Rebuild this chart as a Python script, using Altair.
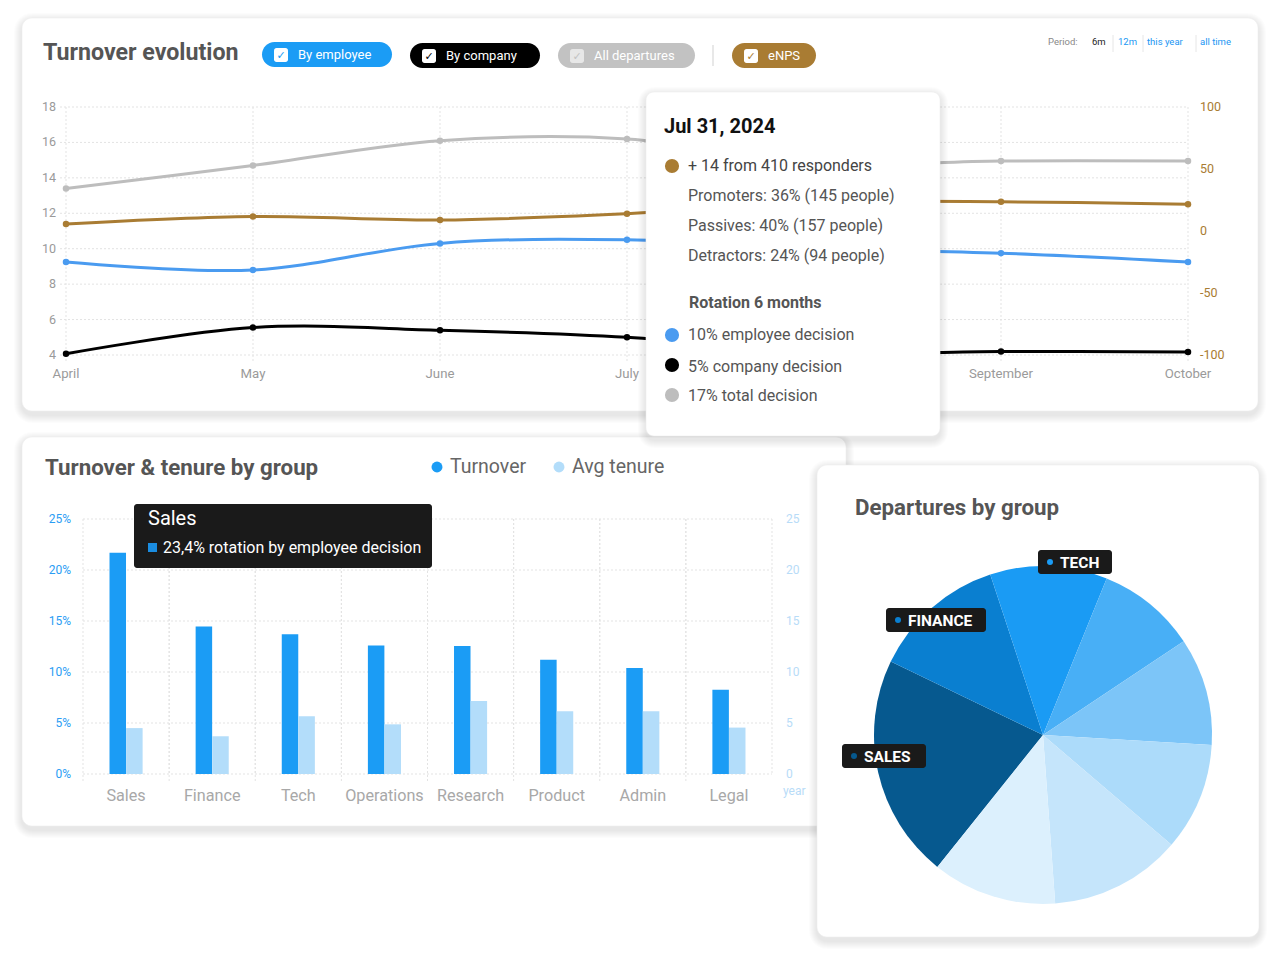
import math
import altair as alt
import pandas as pd

# ---------------- data ----------------
months = ["April", "May", "June", "July", "August", "September", "October"]
all_departures = [13.4, 14.7, 16.1, 16.2, 14.8, 14.95, 14.95]
by_employee = [9.25, 8.8, 10.3, 10.5, 10.0, 9.75, 9.25]
by_company = [4.07, 5.55, 5.4, 5.0, 4.1, 4.2, 4.17]
enps = [5.6, 11.7, 8.9, 14.0, 23.0, 23.6, 21.5]
left_ticks = [4, 6, 8, 10, 12, 14, 16, 18]
right_ticks = [-100, -50, 0, 50, 100]

groups = ["Sales", "Finance", "Tech", "Operations", "Research", "Product", "Admin", "Legal"]
turnover = [21.7, 14.45, 13.7, 12.6, 12.55, 11.2, 10.4, 8.25]
avg_tenure = [4.5, 3.7, 5.65, 4.87, 7.15, 6.15, 6.15, 4.55]
bar_ticks = [0, 5, 10, 15, 20, 25]

pie_groups = ["Sales", "Finance", "Tech", "Operations", "Research", "Product", "Admin", "Legal"]
departures = [21.4, 12.8, 11.2, 9.5, 10.3, 10.3, 12.6, 11.9]
pie_colors = ["#06598f", "#0a7fd0", "#1a9bf4", "#48aff6", "#7cc5f8", "#acdbfa", "#c5e5fb", "#dcf0fd"]

FONT = "Roboto"
O = 8  # page margin
dummy = pd.DataFrame({"d": [0]})
layers = []


def rect(x1, y1, x2, y2, fill, r=0, opacity=1.0, stroke=None, sw=0):
    kw = dict(fill=fill, cornerRadius=r, opacity=opacity)
    if stroke:
        kw.update(stroke=stroke, strokeWidth=sw)
    return alt.Chart(dummy).mark_rect(**kw).encode(
        x=alt.value(x1 - O), x2=alt.value(x2 - O), y=alt.value(y1 - O), y2=alt.value(y2 - O))


def text(x, y, s, size, color, weight="normal", align="left", font=FONT, baseline="middle"):
    return alt.Chart(dummy).mark_text(text=s, fontSize=size, color=color, fontWeight=weight,
                                      align=align, baseline=baseline, font=font).encode(
        x=alt.value(x - O), y=alt.value(y - O))


def dot(x, y, size, color):
    return alt.Chart(dummy).mark_circle(size=size, color=color, opacity=1).encode(
        x=alt.value(x - O), y=alt.value(y - O))


def vline(x, y1, y2, color, w=1):
    return alt.Chart(dummy).mark_rule(color=color, strokeWidth=w).encode(
        x=alt.value(x - O), y=alt.value(y1 - O), y2=alt.value(y2 - O))


def card(x1, y1, x2, y2, r=10):
    out = []
    for i in range(8, 0, -1):
        out.append(rect(x1 - i, y1 - i + 3, x2 + i, y2 + i + 4, "#000000", r=r + i, opacity=0.011))
    out.append(rect(x1, y1, x2, y2, "#ffffff", r=r, stroke="#eeeeee", sw=0.6))
    return out


def pill(x1, x2, y1, y2, color, label, check_color, box_color="#ffffff", box_op=1.0):
    out = [rect(x1, y1, x2, y2, color, r=(y2 - y1) / 2)]
    out.append(rect(x1 + 12, y1 + 6, x1 + 26, y1 + 20, box_color, r=2.5, opacity=box_op))
    out.append(text(x1 + 19, y1 + 13.5, "\u2713", 11, check_color, weight="bold", align="center",
                    font="DejaVu Sans"))
    out.append(text(x1 + 36, (y1 + y2) / 2 + 0.5, label, 13, "#ffffff"))
    return out


# ---------------- cards ----------------
layers += card(22, 18, 1258, 411)
layers += card(22, 437, 846, 826)

# ---------------- top card header ----------------
layers.append(text(43, 53, "Turnover evolution", 23.2, "#555555", weight="bold"))
layers += pill(262, 392, 42, 67, "#1b9cf5", "By employee", "#1b9cf5")
layers += pill(410, 540, 43, 68, "#000000", "By company", "#000000")
layers += pill(558, 695, 43, 68, "#c2c2c2", "All departures", "#c2c2c2", box_op=0.6)
layers.append(vline(713, 45, 66, "#e0e0e0", 1.5))
layers += pill(732, 816, 43, 68, "#a97c33", "eNPS", "#a97c33")
layers.append(text(1048, 42, "Period:", 9.5, "#888888"))
layers.append(text(1092, 42, "6m", 9.5, "#222222"))
layers.append(vline(1113, 35, 52, "#e6e6e6"))
layers.append(text(1118, 42, "12m", 9.5, "#2196f3"))
layers.append(vline(1143, 35, 52, "#e6e6e6"))
layers.append(text(1147, 42, "this year", 9.5, "#2196f3"))
layers.append(vline(1196, 35, 52, "#e6e6e6"))
layers.append(text(1200, 42, "all time", 9.5, "#2196f3"))

# ---------------- top line chart ----------------
x_month = alt.Scale(type="point", domain=months, range=[66 - O, 1188 - O], padding=0)
y_left = alt.Scale(domain=[4, 18], range=[355 - O, 107 - O], nice=False, zero=False)
y_right = alt.Scale(domain=[-100, 100], range=[355 - O, 107 - O], nice=False, zero=False)

df_lt = pd.DataFrame({"v": left_ticks, "lab": [str(v) for v in left_ticks]})
df_rt = pd.DataFrame({"v": right_ticks, "lab": [str(v) for v in right_ticks]})
df_m = pd.DataFrame({"month": months})

grid_kw = dict(color="#e3e3e3", strokeWidth=1, strokeDash=[2, 2])
layers.append(alt.Chart(df_lt).mark_rule(**grid_kw).encode(
    y=alt.Y("v:Q", scale=y_left, axis=None), x=alt.value(60 - O), x2=alt.value(1188 - O)))
layers.append(alt.Chart(df_m).mark_rule(**grid_kw).encode(
    x=alt.X("month:O", scale=x_month, axis=None), y=alt.value(107 - O), y2=alt.value(362 - O)))
layers.append(alt.Chart(df_lt).mark_text(align="right", baseline="middle", fontSize=12.5,
                                         color="#9a9a9a", font=FONT).encode(
    y=alt.Y("v:Q", scale=y_left, axis=None), x=alt.value(56 - O), text="lab:N"))
layers.append(alt.Chart(df_rt).mark_text(align="left", baseline="middle", fontSize=12.5,
                                         color="#a97c33", font=FONT).encode(
    y=alt.Y("v:Q", scale=y_right, axis=None), x=alt.value(1200 - O), text="lab:N"))
# the August label sits under the tooltip card in the reference, so it is not drawn
layers.append(alt.Chart(df_m).transform_filter(alt.datum.month != "August").mark_text(
    align="center", baseline="middle", fontSize=13.2, color="#9a9a9a", font=FONT).encode(
    x=alt.X("month:O", scale=x_month, axis=None), y=alt.value(374 - O), text="month:N"))

series_names = ["All departures", "By employee", "By company"]
series_colors = ["#bdbdbd", "#4a9bf0", "#000000"]
rows = []
for name, vals in zip(series_names, [all_departures, by_employee, by_company]):
    for i, (m, v) in enumerate(zip(months, vals)):
        rows.append({"month": m, "i": i, "series": name, "value": v})
df_lines = pd.DataFrame(rows)
col_series = alt.Color("series:N", scale=alt.Scale(domain=series_names, range=series_colors), legend=None)
layers.append(alt.Chart(df_lines).mark_line(interpolate="catmull-rom", strokeWidth=3).encode(
    x=alt.X("month:O", scale=x_month, axis=None), y=alt.Y("value:Q", scale=y_left, axis=None),
    color=col_series, order="i:Q"))
layers.append(alt.Chart(df_lines).mark_circle(size=42, opacity=1).encode(
    x=alt.X("month:O", scale=x_month, axis=None), y=alt.Y("value:Q", scale=y_left, axis=None),
    color=col_series))

df_enps = pd.DataFrame({"month": months, "i": list(range(len(months))), "value": enps})
layers.append(alt.Chart(df_enps).mark_line(interpolate="catmull-rom", strokeWidth=3, color="#a97c33").encode(
    x=alt.X("month:O", scale=x_month, axis=None), y=alt.Y("value:Q", scale=y_right, axis=None),
    order="i:Q"))
layers.append(alt.Chart(df_enps).mark_circle(size=42, opacity=1, color="#a97c33").encode(
    x=alt.X("month:O", scale=x_month, axis=None), y=alt.Y("value:Q", scale=y_right, axis=None)))

# ---------------- bar chart card ----------------
layers.append(text(45, 468, "Turnover & tenure by group", 22.3, "#555555", weight="bold"))
layers.append(dot(437, 467, 120, "#1b9cf5"))
layers.append(text(450, 467, "Turnover", 19.5, "#666666"))
layers.append(dot(559, 467, 120, "#b3ddfa"))
layers.append(text(572, 467, "Avg tenure", 19.5, "#666666"))

BX1, BX2 = 83, 772
x_band = alt.Scale(type="band", domain=groups, range=[BX1 - O, BX2 - O], paddingInner=0, paddingOuter=0)
HALF = 8.3
x_band_l = alt.Scale(type="band", domain=groups, range=[BX1 - O - HALF, BX2 - O - HALF],
                     paddingInner=0, paddingOuter=0)
x_band_r = alt.Scale(type="band", domain=groups, range=[BX1 - O + HALF, BX2 - O + HALF],
                     paddingInner=0, paddingOuter=0)
y_bar = alt.Scale(domain=[0, 25], range=[774 - O, 519 - O], nice=False, zero=True)

df_bt = pd.DataFrame({"v": bar_ticks, "pct": [f"{v}%" for v in bar_ticks], "yr": [str(v) for v in bar_ticks]})
df_g = pd.DataFrame({"group": groups, "turnover": turnover, "tenure": avg_tenure})

layers.append(alt.Chart(df_bt).mark_rule(**grid_kw).encode(
    y=alt.Y("v:Q", scale=y_bar, axis=None), x=alt.value(BX1 - O), x2=alt.value(BX2 - O)))
for bp in (0, 1):
    layers.append(alt.Chart(df_g).mark_rule(**grid_kw).encode(
        x=alt.X("group:N", scale=x_band, axis=None, bandPosition=bp),
        y=alt.value(519 - O), y2=alt.value(783 - O if bp == 0 else 774 - O)))
layers.append(alt.Chart(df_bt).mark_text(align="right", baseline="middle", fontSize=12,
                                         color="#2a9df4", font=FONT).encode(
    y=alt.Y("v:Q", scale=y_bar, axis=None), x=alt.value(71 - O), text="pct:N"))
layers.append(alt.Chart(df_bt).mark_text(align="left", baseline="middle", fontSize=12,
                                         color="#b8dcf8", font=FONT).encode(
    y=alt.Y("v:Q", scale=y_bar, axis=None), x=alt.value(786 - O), text="yr:N"))
layers.append(text(783, 791, "year", 12, "#b8dcf8"))

layers.append(alt.Chart(df_g).mark_bar(size=16.5, color="#1b9cf5").encode(
    x=alt.X("group:N", scale=x_band_l, axis=None),
    y=alt.Y("turnover:Q", scale=y_bar, axis=None)))
layers.append(alt.Chart(df_g).mark_bar(size=16.5, color="#b3ddfa").encode(
    x=alt.X("group:N", scale=x_band_r, axis=None),
    y=alt.Y("tenure:Q", scale=y_bar, axis=None)))
layers.append(alt.Chart(df_g).mark_text(align="center", baseline="middle", fontSize=16.2,
                                        color="#a8a8a8", font=FONT).encode(
    x=alt.X("group:N", scale=x_band, axis=None), y=alt.value(796 - O), text="group:N"))

# bar tooltip
layers.append(rect(134, 504, 432, 568, "#1a1a1a", r=3))
layers.append(text(148, 519, "Sales", 20, "#ffffff"))
layers.append(rect(148, 543, 157, 552, "#1a8ce0"))
layers.append(text(163, 548, "23,4% rotation by employee decision", 16, "#ffffff"))

# ---------------- pie card ----------------
layers += card(817, 465, 1259, 937)
layers.append(text(855, 508, "Departures by group", 22.3, "#555555", weight="bold"))
start = math.radians(218.7)
df_pie = pd.DataFrame({"group": pie_groups, "dep": departures, "idx": list(range(len(pie_groups)))})
layers.append(alt.Chart(df_pie).mark_arc(radius=169).encode(
    theta=alt.Theta("dep:Q", scale=alt.Scale(range=[start, start + 2 * math.pi]), stack=True),
    color=alt.Color("group:N", scale=alt.Scale(domain=pie_groups, range=pie_colors), legend=None),
    order=alt.Order("idx:Q"),
    x=alt.value(1043 - O), y=alt.value(735 - O)))


def pie_label(x1, y1, x2, y2, label, dcol):
    return [rect(x1, y1, x2, y2, "#1a1a1a", r=3),
            dot(x1 + 12, (y1 + y2) / 2, 36, dcol),
            text(x1 + 22, (y1 + y2) / 2 + 0.5, label, 15.5, "#ffffff", weight="bold")]


layers += pie_label(1038, 550, 1112, 574, "TECH", "#1a9bf4")
layers += pie_label(886, 608, 986, 632, "FINANCE", "#0a7fd0")
layers += pie_label(842, 744, 926, 768, "SALES", "#06598f")

# ---------------- line tooltip ----------------
layers += card(646, 92, 940, 436, r=8)
layers.append(text(664, 127, "Jul 31, 2024", 20, "#111111", weight="bold"))
layers.append(dot(672, 166, 200, "#a97c33"))
layers.append(text(688, 166, "+ 14 from 410 responders", 16, "#444444"))
layers.append(text(688, 196, "Promoters: 36% (145 people)", 16, "#555555"))
layers.append(text(688, 226, "Passives: 40% (157 people)", 16, "#555555"))
layers.append(text(688, 256, "Detractors: 24% (94 people)", 16, "#555555"))
layers.append(text(689, 303, "Rotation 6 months", 16, "#555555", weight="bold"))
layers.append(dot(672, 335, 200, "#4a9bf0"))
layers.append(text(688, 335, "10% employee decision", 16, "#555555"))
layers.append(dot(672, 365, 200, "#000000"))
layers.append(text(688, 367, "5% company decision", 16, "#555555"))
layers.append(dot(672, 395, 200, "#bdbdbd"))
layers.append(text(688, 396, "17% total decision", 16, "#555555"))

chart = alt.layer(*layers).resolve_scale(
    x="independent", y="independent", color="independent", theta="independent"
).properties(
    width=1266, height=958, padding=0, autosize=alt.AutoSizeParams(type="none"), background="#ffffff"
).configure_view(strokeWidth=0)

chart.save("out.html", embed_options={"renderer": "svg", "actions": False})
